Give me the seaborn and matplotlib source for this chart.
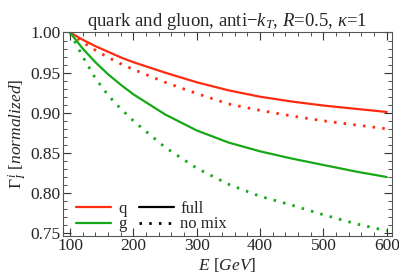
import matplotlib
matplotlib.use("Agg")
import matplotlib.pyplot as plt
from matplotlib.lines import Line2D
from matplotlib.ticker import MultipleLocator, FormatStrFormatter
import pandas as pd
import seaborn as sns

# values
E = [100, 120, 140, 160, 180, 200, 250, 300, 350, 400, 450, 500, 550, 600]
q_full = [1.000, 0.991, 0.983, 0.976, 0.969, 0.963, 0.950, 0.938, 0.928, 0.920, 0.914, 0.909, 0.905, 0.901]
q_nomix = [1.000, 0.988, 0.978, 0.969, 0.961, 0.954, 0.938, 0.924, 0.911, 0.903, 0.896, 0.890, 0.885, 0.880]
g_full = [1.000, 0.980, 0.963, 0.948, 0.935, 0.923, 0.898, 0.878, 0.863, 0.852, 0.843, 0.835, 0.827, 0.820]
g_nomix = [1.000, 0.970, 0.943, 0.922, 0.905, 0.890, 0.857, 0.831, 0.811, 0.796, 0.785, 0.773, 0.762, 0.753]

red = "#ff2a10"
green = "#16a816"
dots = (0, (0.9, 2.6))

sns.set_style("white")
plt.rcParams["font.family"] = ["Liberation Serif", "DejaVu Serif"]
plt.rcParams["mathtext.fontset"] = "custom"
plt.rcParams["mathtext.rm"] = "Liberation Serif"
plt.rcParams["mathtext.it"] = "Liberation Serif:italic"
plt.rcParams["mathtext.bf"] = "Liberation Serif:bold"

fig = plt.figure(figsize=(3.99, 2.79), dpi=100)
ax = fig.add_axes([0.158, 0.154, 0.824, 0.731])

df = pd.DataFrame({"E": E, "qf": q_full, "qn": q_nomix, "gf": g_full, "gn": g_nomix})
sns.lineplot(data=df, x="E", y="qf", color=red, lw=1.6, ax=ax)
sns.lineplot(data=df, x="E", y="qn", color=red, lw=2.0, ls=dots, ax=ax)
sns.lineplot(data=df, x="E", y="gf", color=green, lw=1.6, ax=ax)
sns.lineplot(data=df, x="E", y="gn", color=green, lw=2.0, ls=dots, ax=ax)

ax.set_xlim(89, 608)
ax.set_ylim(0.7465, 1.0005)
ax.xaxis.set_major_locator(MultipleLocator(100))
ax.xaxis.set_minor_locator(MultipleLocator(20))
ax.yaxis.set_major_locator(MultipleLocator(0.05))
ax.yaxis.set_minor_locator(MultipleLocator(0.01))
ax.yaxis.set_major_formatter(FormatStrFormatter("%.2f"))
ax.tick_params(which="both", direction="in", top=True, right=True, bottom=True, left=True,
               labelsize=12.5, color="#333333")
ax.tick_params(which="major", length=6, width=0.8, pad=1.5)
ax.tick_params(which="minor", length=3, width=0.6)
for s in ax.spines.values():
    s.set_linewidth(0.8)
    s.set_color("#555555")

ax.set_title(r"quark and gluon, anti$-k_T$, $R$=0.5, $\kappa$=1", fontsize=13.5, pad=4)
ax.set_xlabel(r"$E$ [$GeV$]", fontsize=12.5, labelpad=1)
ax.set_ylabel(r"$\Gamma_I^{\,i}$ [$normalized$]", fontsize=12.5, labelpad=1)

handles = [
    Line2D([], [], color=red, lw=1.6),
    Line2D([], [], color=green, lw=1.6),
    Line2D([], [], color="black", lw=1.6),
    Line2D([], [], color="black", lw=2.0, ls=dots),
]
ax.legend(handles, ["q", "g", "full", "no mix"], ncol=2, loc="lower left",
          frameon=False, fontsize=12, handlelength=2.1, handletextpad=0.4,
          columnspacing=0.75, labelspacing=-0.05, borderaxespad=0.0,
          bbox_to_anchor=(0.02, -0.015))

fig.savefig("out.png", dpi=100)
